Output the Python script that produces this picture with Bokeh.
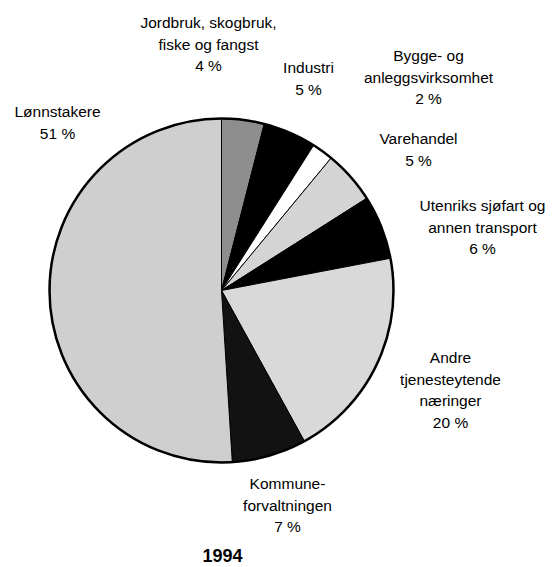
import math
from bokeh.plotting import figure
from bokeh.models import Range1d, ColumnDataSource
from bokeh.core.properties import value
from bokeh.embed import file_html
from bokeh.resources import INLINE

# ---- data ----
categories = [
    "Jordbruk, skogbruk,\nfiske og fangst",
    "Industri",
    "Bygge- og\nanleggsvirksomhet",
    "Varehandel",
    "Utenriks sjøfart og\nannen transport",
    "Andre\ntjenesteytende\nnæringer",
    "Kommune-\nforvaltningen",
    "Lønnstakere",
]
shares = [4, 5, 2, 5, 6, 20, 7, 51]
year_label = "1994"

# ---- styles / layout ----
fills = ["#8e8e8e", "#000000", "#ffffff", "#d4d4d4", "#000000", "#d9d9d9", "#121212", "#cfcfcf"]
# label anchors in picture pixels: (center x, first line y)
label_pos = [(208, 22), (308, 67), (428, 55), (418, 138), (482, 205), (450, 357), (287, 483), (57, 111)]
line_gap = 21.5

W, H = 552, 567
p = figure(width=W, height=H, output_backend="svg", toolbar_location=None,
           x_range=Range1d(0, W), y_range=Range1d(0, H), min_border=0)
p.axis.visible = False
p.grid.visible = False
p.outline_line_color = None

def px(x):
    return x

def py(y):
    return H - y

cx, cy, R = px(221), py(290), 172
total = sum(shares)
starts, ends = [], []
cum = 0
for s in shares:
    starts.append(math.pi / 2 - 2 * math.pi * cum / total)
    cum += s
    ends.append(math.pi / 2 - 2 * math.pi * cum / total)

src = ColumnDataSource(dict(start=starts, end=ends, fill=fills))
p.wedge(x=cx, y=cy, radius=R, start_angle="start", end_angle="end", direction="clock",
        fill_color="fill", line_color="black", line_width=1, source=src)
p.circle(x=[cx], y=[cy], radius=R, fill_color=None, line_color="black", line_width=2.5)

tx, ty, tt = [], [], []
for name, s, (lx, ly) in zip(categories, shares, label_pos):
    lines = name.split("\n") + [f"{s} %"]
    for i, ln in enumerate(lines):
        tx.append(px(lx))
        ty.append(py(ly + i * line_gap))
        tt.append(ln)
p.text(x=tx, y=ty, text=tt, text_align="center", text_baseline="middle",
       text_font=value("Liberation Sans"), text_font_size="15.5px", text_color="black")

p.text(x=[px(222)], y=[py(555)], text=[year_label], text_align="center", text_baseline="middle",
       text_font=value("Liberation Sans"), text_font_size="18px", text_font_style="bold",
       text_color="black")

open("out.html", "w").write(file_html(p, INLINE))
